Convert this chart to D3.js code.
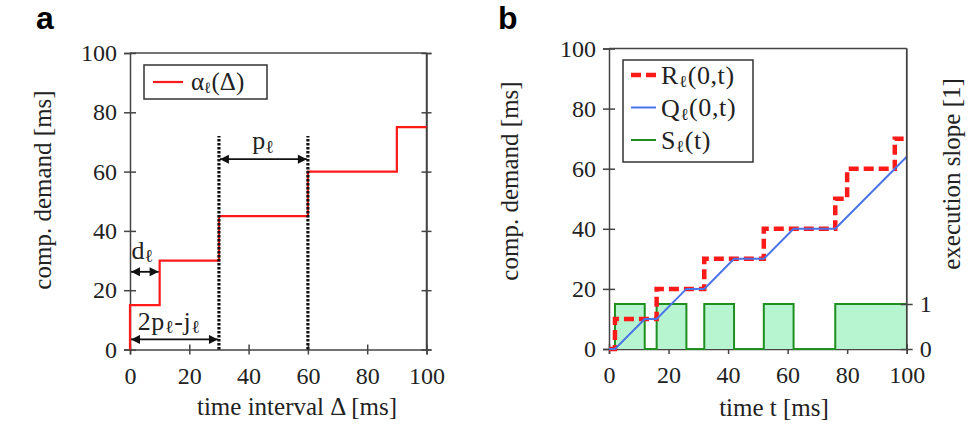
<!DOCTYPE html>
<html><head><meta charset="utf-8">
<script src="https://cdn.jsdelivr.net/npm/d3@7"></script>
<style>
html,body{margin:0;padding:0;background:#fff;}
svg text{font-family:"Liberation Serif","DejaVu Serif","Times New Roman",Times,serif !important;fill:#222;}
svg text.plab{font-family:"Liberation Sans","DejaVu Sans",Arial,sans-serif !important;fill:#000;font-weight:bold;}
</style></head>
<body><svg id="c" width="971" height="432"></svg>
<script>
// ---------- data ----------
const axisTicks = [0, 20, 40, 60, 80, 100];
// panel a: arrival curve alpha(Δ)
const alphaDelta = [0, 0, 10, 30, 60, 90, 100];
const alphaValue = [0, 15, 30, 45, 60, 75, 75];
const markerDelta = [30, 60];          // dashed vertical lines
const markerTop = 72;
// panel b
const rTime  = [0, 2, 16, 32, 52, 76, 80, 96, 100];
const rValue = [0, 10, 20, 30, 40, 50, 60, 70, 70];
const qTime  = [0, 2, 12, 16, 26, 32, 42, 52, 62, 76, 100];
const qValue = [0, 0, 10, 10, 20, 20, 30, 30, 40, 40, 64];
const sTime  = [0, 2, 12, 16, 26, 32, 42, 52, 62, 76, 100];
const sValue = [0, 1, 0, 1, 0, 1, 0, 1, 0, 1, 1];
const slopeTicks = [0, 1];

const svg = d3.select("#c");
const defs = svg.append("defs");
defs.append("marker").attr("id","ah").attr("viewBox","0 0 10 10")
  .attr("refX",10).attr("refY",5).attr("markerWidth",10).attr("markerHeight",9)
  .attr("markerUnits","userSpaceOnUse").attr("orient","auto-start-reverse")
  .append("path").attr("d","M0,0L10,5L0,10Z").attr("fill","#111");

const AX = "#444";
const TICKFS = 24;
function frame(g, x, y, withRight) {
  const [x0,x1] = x.range(), [y0,y1] = y.range();
  g.append("line").attr("x1",x0).attr("x2",x1).attr("y1",y1).attr("y2",y1).attr("stroke",AX).attr("stroke-width",1.5);
  g.append("line").attr("x1",x1).attr("x2",x1).attr("y1",y0).attr("y2",y1).attr("stroke",AX).attr("stroke-width",1.5);
  const la = g.append("g").attr("transform",`translate(${x0},0)`)
    .call(d3.axisLeft(y).tickValues(axisTicks).tickSize(6).tickPadding(7));
  la.selectAll(".tick line").attr("x1",6);
  const ba = g.append("g").attr("transform",`translate(0,${y0})`)
    .call(d3.axisBottom(x).tickValues(axisTicks).tickSize(5).tickPadding(12));
  ba.selectAll(".tick line").attr("y1",-5);
  for (const a of [la, ba]) {
    a.attr("font-family",null);
    a.select(".domain").attr("stroke",AX).attr("stroke-width",1.5);
    a.selectAll(".tick line").attr("stroke",AX).attr("stroke-width",1.5);
    a.selectAll(".tick text").attr("font-size",TICKFS);
  }
  if (withRight) {
    const ra = g.append("g").attr("transform",`translate(${x1},0)`)
      .call(d3.axisRight(y).tickValues(axisTicks).tickSize(5).tickFormat(""));
    ra.selectAll(".tick line").attr("x1",-5).attr("stroke",AX).attr("stroke-width",1.5);
    ra.select(".domain").attr("stroke",AX).attr("stroke-width",1.5);
  }
}
function subLabel(sel, parts, subSize) {
  parts.forEach(([t, sub], i) => {
    const ts = sel.append("tspan").text(t);
    if (sub) ts.attr("font-size",(subSize||0.7)+"em").attr("dy","0.18em");
    else if (i > 0) ts.attr("dy","-0.13em");
  });
}

// ---------- panel a ----------
const ga = svg.append("g");
const xa = d3.scaleLinear().domain([0,100]).range([130, 426.5]);
const ya = d3.scaleLinear().domain([0,100]).range([349.5, 53]);
frame(ga, xa, ya, true);

const alphaPts = alphaDelta.map((d,i)=>[d, alphaValue[i]]);
ga.append("path").attr("d", d3.line().x(d=>xa(d[0])).y(d=>ya(d[1])).curve(d3.curveStepAfter)(alphaPts))
  .attr("fill","none").attr("stroke","#ff1a1a").attr("stroke-width",2.2);

ga.selectAll(".vm").data(markerDelta).join("line")
  .attr("x1",d=>xa(d)).attr("x2",d=>xa(d)).attr("y1",ya(0)).attr("y2",ya(markerTop))
  .attr("stroke","#111").attr("stroke-width",3.2).attr("stroke-dasharray","2.5,1.5");

function arrow(g, x, y, a, b, v) {
  g.append("line").attr("x1",x(a)+1).attr("x2",x(b)-1).attr("y1",y(v)).attr("y2",y(v))
    .attr("stroke","#111").attr("stroke-width",1.8)
    .attr("marker-start","url(#ah)").attr("marker-end","url(#ah)");
}
arrow(ga, xa, ya, 0, 10, 26.2);
arrow(ga, xa, ya, 0, 30, 3.4);
arrow(ga, xa, ya, 30, 60, 64.2);
subLabel(ga.append("text").attr("x",xa(0.5)).attr("y",ya(30.5)).attr("font-size",26), [["d",0],["ℓ",1]]);
subLabel(ga.append("text").attr("x",xa(2.6)).attr("y",ya(6.7)).attr("font-size",26).attr("letter-spacing",0.6), [["2p",0],["ℓ",1],["-j",0],["ℓ",1]]);
subLabel(ga.append("text").attr("x",xa(41.2)).attr("y",ya(67.5)).attr("font-size",26), [["p",0],["ℓ",1]]);

const lga = ga.append("g");
lga.append("rect").attr("x",144).attr("y",65).attr("width",123).attr("height",34)
  .attr("fill","#fff").attr("stroke","#333").attr("stroke-width",1.5);
lga.append("line").attr("x1",153).attr("x2",183).attr("y1",82).attr("y2",82).attr("stroke","#ff1a1a").attr("stroke-width",2.2);
subLabel(lga.append("text").attr("x",191).attr("y",90).attr("font-size",25), [["α",0],["ℓ",1],["(Δ)",0]], 0.62);

ga.append("text").attr("x",297).attr("y",415).attr("text-anchor","middle").attr("font-size",25).text("time interval Δ [ms]");
ga.append("text").attr("transform","translate(51,190) rotate(-90)").attr("text-anchor","middle").attr("font-size",25).text("comp. demand [ms]");
ga.append("text").attr("class","plab").attr("x",36).attr("y",29).attr("font-size",32).text("a");

// ---------- panel b ----------
const gb = svg.append("g");
const xb = d3.scaleLinear().domain([0,100]).range([609, 906.7]);
const yb = d3.scaleLinear().domain([0,100]).range([349, 48.5]);
const ys = d3.scaleLinear().domain([0,1]).range([349, 304]);
frame(gb, xb, yb, false);

const sPts = sTime.map((t,i)=>[t, sValue[i]]);
gb.append("path").attr("d", d3.area().x(d=>xb(d[0])).y0(ys(0)).y1(d=>ys(d[1])).curve(d3.curveStepAfter)(sPts))
  .attr("fill","#b6f5cf").attr("stroke","none");
gb.append("path").attr("d", d3.line().x(d=>xb(d[0])).y(d=>ys(d[1])).curve(d3.curveStepAfter)(sPts))
  .attr("fill","none").attr("stroke","#1f8f1f").attr("stroke-width",2);

const rPts = rTime.map((t,i)=>[t, rValue[i]]);
gb.append("path").attr("d", d3.line().x(d=>xb(d[0])).y(d=>yb(d[1])).curve(d3.curveStepAfter)(rPts))
  .attr("fill","none").attr("stroke","#ff1a1a").attr("stroke-width",4.5).attr("stroke-dasharray","10,5");

const qPts = qTime.map((t,i)=>[t, qValue[i]]);
gb.append("path").attr("d", d3.line().x(d=>xb(d[0])).y(d=>yb(d[1]))(qPts))
  .attr("fill","none").attr("stroke","#4a73e8").attr("stroke-width",2);

const rab = gb.append("g").attr("transform",`translate(${xb(100)},0)`)
  .call(d3.axisRight(ys).tickValues(slopeTicks).tickSize(6).tickPadding(7).tickFormat(d3.format("d")));
rab.attr("font-family",null);
rab.select(".domain").remove();
rab.append("line").attr("x1",0).attr("x2",0).attr("y1",yb(0)).attr("y2",yb(100)).attr("stroke",AX).attr("stroke-width",1.5);
rab.selectAll(".tick line").attr("x1",-6).attr("stroke",AX).attr("stroke-width",1.5);
rab.selectAll(".tick text").attr("font-size",TICKFS);

const lgb = gb.append("g");
lgb.append("rect").attr("x",623).attr("y",60).attr("width",130).attr("height",102)
  .attr("fill","#fff").attr("stroke","#333").attr("stroke-width",1.5);
const legItems = [
  {parts:[["R",0],["ℓ",1],["(0,t)",0]], color:"#ff1a1a", w:4.5, dash:"10,5"},
  {parts:[["Q",0],["ℓ",1],["(0,t)",0]], color:"#4a73e8", w:2, dash:null},
  {parts:[["S",0],["ℓ",1],["(t)",0]], color:"#1f8f1f", w:2, dash:null}
];
legItems.forEach((it,i)=>{
  const cy = 75 + i*32.5;
  lgb.append("line").attr("x1",631).attr("x2",656).attr("y1",cy).attr("y2",cy)
    .attr("stroke",it.color).attr("stroke-width",it.w).attr("stroke-dasharray",it.dash);
  subLabel(lgb.append("text").attr("x",661).attr("y",cy+9).attr("font-size",26).attr("letter-spacing",0.6), it.parts, 0.65);
});

gb.append("text").attr("x",774).attr("y",416).attr("text-anchor","middle").attr("font-size",25).text("time t [ms]");
gb.append("text").attr("transform","translate(518,181) rotate(-90)").attr("text-anchor","middle").attr("font-size",25).text("comp. demand [ms]");
gb.append("text").attr("transform","translate(960,174) rotate(-90)").attr("text-anchor","middle").attr("font-size",25).text("execution slope [1]");
gb.append("text").attr("class","plab").attr("x",498).attr("y",29).attr("font-size",32).text("b");
</script></body></html>
